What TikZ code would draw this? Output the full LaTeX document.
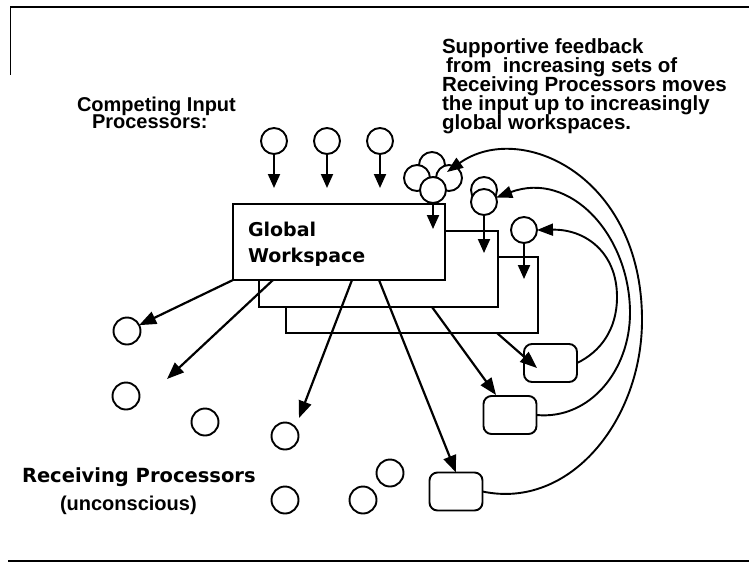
\documentclass[tikz,border=0pt]{standalone}
\usepackage{fontspec}
\setmainfont{Liberation Sans}
\newfontfamily\wsfont{DejaVu Sans}
\usetikzlibrary{arrows.meta}

\begin{document}
\begin{tikzpicture}[x=1pt,y=-1pt,
  every node/.style={inner sep=0pt, outer sep=0pt},
  proc/.style={circle, draw, fill=white, line width=1.9pt, minimum size=27pt},
  inproc/.style={circle, draw, fill=white, line width=1.9pt, minimum size=26pt},
  recv/.style={rounded corners=8pt, draw, fill=white, line width=1.9pt,
               minimum width=53pt, minimum height=38pt},
  wsbox/.style={draw, fill=white, line width=2.5pt, anchor=north west, minimum height=76pt},
  bigarrow/.style={line width=2.2pt, -{Triangle[length=17pt,width=13pt]}},
  smallarrow/.style={line width=2pt, -{Triangle[length=14pt,width=12pt]}},
  fbarrow/.style={line width=1.9pt, -{Triangle[length=16pt,width=12pt]}},
  helv/.style={font=\bfseries\fontsize{20.5}{19}\selectfont, anchor=base west},
  chic/.style={font=\wsfont\bfseries\fontsize{19}{27}\selectfont, anchor=base west},
]
\useasboundingbox (0,0) rectangle (749,563);

% frame rules
\coordinate (tl) at (10,7);
\coordinate (tr) at (749,7);
\coordinate (tld) at (10,75);
\coordinate (bl) at (8,561);
\coordinate (br) at (749,561);
\draw[line width=2pt] (tl) -- (tr);
\draw[line width=0.8pt] (tl) -- (tld);
\draw[line width=2.6pt] (bl) -- (br);

% labels
\node[helv, font=\bfseries\fontsize{20}{17}\selectfont] (cin1) at (77,111) {Competing Input};
\node[helv, font=\bfseries\fontsize{20}{17}\selectfont] (cin2) at (92,128) {Processors:};
\node[helv] (fb1) at (442,53) {Supportive feedback};
\node[helv] (fb2) at (446,72) {from\ \ increasing sets of};
\node[helv] (fb3) at (442,91) {Receiving Processors moves};
\node[helv] (fb4) at (442,110) {the input up to increasingly};
\node[helv] (fb5) at (442,129) {global workspaces.};

% stacked workspaces
\node[wsbox, minimum width=252pt] (ws3) at (286,257) {};
\node[wsbox, minimum width=239pt] (ws2) at (259,231) {};
\node[wsbox, minimum width=212pt] (ws1) at (233,204) {};
\node[chic] (gw1) at (248,236) {Global};
\node[chic] (gw2) at (248,262) {Workspace};

% competing input processors
\node[inproc] (i1) at (274,141) {};
\node[inproc] (i2) at (327,141) {};
\node[inproc] (i3) at (380,141) {};
\coordinate (i1t) at (274,188);
\coordinate (i2t) at (327,188);
\coordinate (i3t) at (380,188);
\draw[smallarrow] (i1) -- (i1t);
\draw[smallarrow] (i2) -- (i2t);
\draw[smallarrow] (i3) -- (i3t);

% processors promoted by feedback
\node[inproc] (s1b) at (432,165) {};
\node[inproc] (s1l) at (417,178) {};
\node[inproc] (s1r) at (449,178) {};
\node[inproc] (s1f) at (433,190) {};
\node[inproc] (s2b) at (484,190) {};
\node[inproc] (s2f) at (484,202) {};
\node[inproc] (s3) at (524,230) {};
\coordinate (s1t) at (433,229);
\coordinate (s2t) at (484,253);
\coordinate (s3t) at (524,279);
\draw[smallarrow] (s1f) -- (s1t);
\draw[smallarrow] (s2f) -- (s2t);
\draw[smallarrow] (s3) -- (s3t);

% receiving processors
\node[proc] (c1) at (127,331) {};
\node[proc] (c2) at (126,396) {};
\node[proc] (c3) at (205,422) {};
\node[proc] (c4) at (285,436) {};
\node[proc] (c5) at (285,500) {};
\node[proc] (c6) at (363,500) {};
\node[proc] (c7) at (390,473) {};
\node[recv] (rb1) at (550.5,363) {};
\node[recv] (rb2) at (510,415) {};
\node[recv] (rb3) at (456,491.5) {};
\node[helv, font=\wsfont\bfseries\fontsize{19.5}{20}\selectfont] (rp) at (22,482) {Receiving Processors};
\node[helv, font=\bfseries\fontsize{20}{20}\selectfont] (unc) at (60,510) {(unconscious)};

% broadcast from the workspaces
\coordinate (a2s) at (273,280);
\coordinate (a2t) at (167,379);
\coordinate (a3s) at (352,280);
\coordinate (a3t) at (299,418);
\coordinate (a4s) at (379,280);
\coordinate (a5s) at (432,307);
\coordinate (a5t) at (496,395);
\coordinate (a6s) at (497,333);
\coordinate (a6t) at (537,368);
\draw[bigarrow] (ws1.south west) -- (c1);
\draw[bigarrow] (a2s) -- (a2t);
\draw[bigarrow] (a3s) -- (a3t);
\draw[bigarrow] (a4s) -- (rb3.north);
\draw[bigarrow] (a5s) -- (a5t);
\draw[bigarrow] (a6s) -- (a6t);

% supportive feedback loops
\draw[fbarrow] (rb1.east) .. controls (600,352) and (617,330) .. (617,297)
  .. controls (617,252) and (585,229) .. (s3.east);
\draw[fbarrow] (rb2.east) .. controls (590,420) and (630,370) .. (630,313)
  .. controls (630,235) and (570,170) .. (s2f.20);
\draw[fbarrow] (rb3.east) .. controls (570,510) and (642,420) .. (642,320)
  .. controls (642,175) and (520,120) .. (447,172);
\end{tikzpicture}
\end{document}
